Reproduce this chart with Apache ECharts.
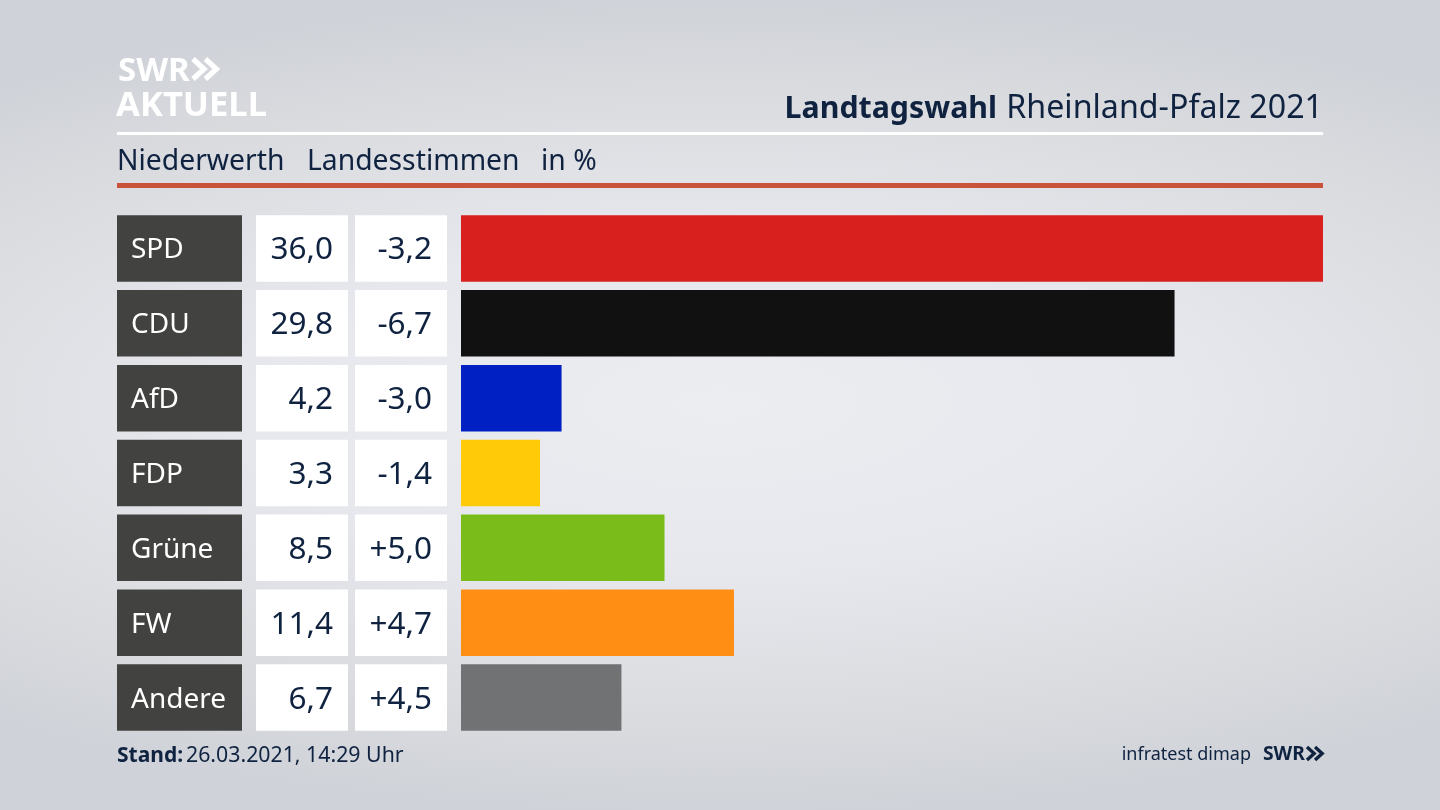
<!DOCTYPE html>
<html><head><meta charset="utf-8">
<style>html,body{margin:0;padding:0;width:1440px;height:810px;overflow:hidden;
background:radial-gradient(ellipse 1150px 410px at 50% 50%,#ecedf1 0%,#e7e8ed 40%,#d8dade 80%,#cfd2d8 100%);}
#c{width:1440px;height:810px}</style>
<script src="https://cdn.jsdelivr.net/npm/echarts@6/dist/echarts.min.js"></script>
</head><body><div id="c"></div>
<script>
const categories=['SPD','CDU','AfD','FDP','Grüne','FW','Andere'];
const shares=[36.0,29.8,4.2,3.3,8.5,11.4,6.7];
const changes=['-3,2','-6,7','-3,0','-1,4','+5,0','+4,7','+4,5'];
const barColors=['#d8201f','#111111','#0020c4','#ffcb08','#7abd1a','#ff8e14','#717274'];
const ink='#0f2240';
const font='"Noto Sans"';
const fmt=v=>v.toFixed(1).replace('.',',');
const gridTop=211,gridHeight=524,barW=66.5;
const cols=[{l:117,w:125},{l:256,w:92},{l:355,w:92},{l:461,w:862}];
const grids=cols.map(c=>({left:c.l,top:gridTop,width:c.w,height:gridHeight}));
const xAxes=cols.map((c,i)=>({gridIndex:i,type:'value',min:0,max:i===3?36:1,show:false}));
const yAxes=cols.map((c,i)=>({gridIndex:i,type:'category',inverse:true,data:categories,show:false}));
function cell(i,color,texts,labelOpt){
  return {type:'bar',xAxisIndex:i,yAxisIndex:i,barWidth:barW,silent:true,animation:false,
    itemStyle:{color:color},
    data:categories.map(()=>1),
    label:Object.assign({show:true,fontFamily:font,offset:[0,2],formatter:p=>texts[p.dataIndex]},labelOpt)};
}
const chevrons=(x,y,s,color)=>[0,1].map(k=>({type:'polyline',silent:true,
  shape:{points:[[x+k*s*0.62,y],[x+k*s*0.62+s*0.55,y+s*0.5],[x+k*s*0.62,y+s]]},
  style:{stroke:color,fill:null,lineWidth:s*0.26}}));
const text=(x,y,t,size,color,weight,align)=>({type:'text',silent:true,x:x,y:y-size*0.79,
  style:{text:t,font:`${weight||'normal'} ${size}px ${font}`,fill:color,textAlign:align||'left'}});
const rect=(x,y,w,h,c)=>({type:'rect',silent:true,shape:{x:x,y:y,width:w,height:h},style:{fill:c}});
const chart=echarts.init(document.getElementById('c'),null,{renderer:'canvas'});
chart.setOption({
  animation:false,backgroundColor:'transparent',
  grid:grids,xAxis:xAxes,yAxis:yAxes,
  series:[
    cell(0,'#424341',categories,{position:'insideLeft',distance:14,color:'#ffffff',fontSize:28}),
    cell(1,'#ffffff',shares.map(fmt),{position:'insideRight',distance:15,color:ink,fontSize:31.5}),
    cell(2,'#ffffff',changes,{position:'insideRight',distance:15,color:ink,fontSize:31.5}),
    {type:'bar',xAxisIndex:3,yAxisIndex:3,barWidth:barW,silent:true,animation:false,
     data:shares.map((v,i)=>({value:v,itemStyle:{color:barColors[i]}}))}
  ],
  graphic:[
    rect(117,132,1206,3,'#ffffff'),
    rect(117,183,1206,5,'#c9533a'),
    text(118,81,'SWR',33,'#ffffff','bold'),
    ...chevrons(193,59,20,'#ffffff'),
    text(116,116,'AKTUELL',34.6,'#ffffff','bold'),
    text(997,118,'Landtagswahl',30.3,ink,'bold','right'),
    text(1323,118,'Rheinland-Pfalz 2021',32.2,ink,'normal','right'),
    text(117,170,'Niederwerth',28.3,ink),
    text(307,170,'Landesstimmen',28.3,ink),
    text(541,170,'in %',28.3,ink),
    text(117,762,'Stand:',21,ink,'bold'),
    text(186,762,'26.03.2021, 14:29 Uhr',21.3,ink),
    text(1251,760,'infratest dimap',18,ink,'normal','right'),
    text(1263,760,'SWR',19.3,ink,'bold'),
    ...chevrons(1307,747,13,ink)
  ]
});
</script></body></html>
